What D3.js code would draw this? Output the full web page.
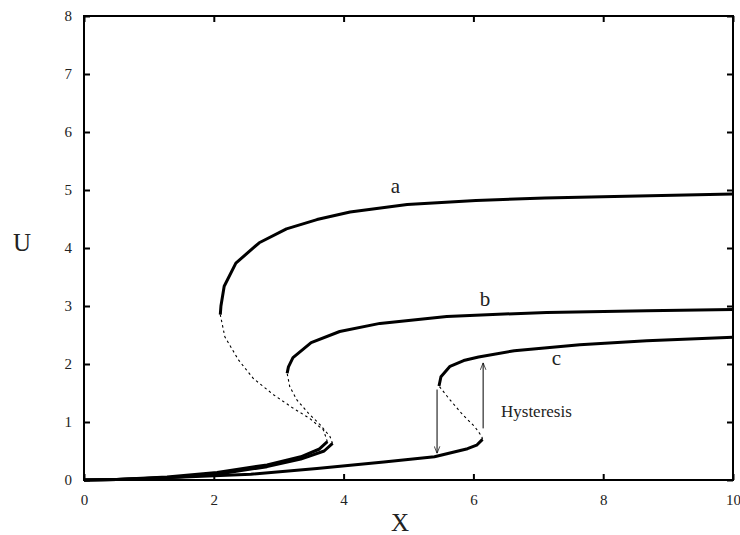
<!DOCTYPE html>
<html>
<head>
<meta charset="utf-8">
<script src="https://cdn.jsdelivr.net/npm/d3@7"></script>
<style>
  body { margin: 0; background: #fff; }
  svg { display: block; }
  .axis path { display: none; }
  .axis line { stroke: #000; stroke-width: 2; }
</style>
</head>
<body>
<div id="container"></div>
<script>
let w = 740;
let h = 535;
let serif = "'Liberation Serif', 'Times New Roman', serif";

// x ticks and y ticks
let xTicks = [0, 2, 4, 6, 8, 10];
let yTicks = [0, 1, 2, 3, 4, 5, 6, 7, 8];

// curve a
let aLower = [[0, 0], [0.5, 0.01], [1.28, 0.05], [2.05, 0.13], [2.82, 0.26], [3.34, 0.40], [3.62, 0.53], [3.75, 0.66]];
let aMiddle = [[3.75, 0.66], [3.69, 0.86], [3.48, 1.06], [3.22, 1.24], [2.92, 1.47], [2.61, 1.75], [2.38, 2.07], [2.17, 2.47], [2.10, 2.85]];
let aUpper = [[2.10, 2.85], [2.11, 3.0], [2.16, 3.34], [2.34, 3.74], [2.70, 4.09], [3.12, 4.33], [3.59, 4.49], [4.10, 4.62], [4.98, 4.75], [6.04, 4.82], [7.1, 4.86], [8.17, 4.89], [10, 4.93]];

// curve b
let bLower = [[0, 0], [0.5, 0.01], [1.28, 0.04], [2.05, 0.10], [2.82, 0.23], [3.34, 0.36], [3.70, 0.50], [3.83, 0.63]];
let bMiddle = [[3.83, 0.63], [3.79, 0.75], [3.64, 0.95], [3.46, 1.15], [3.28, 1.38], [3.17, 1.61], [3.13, 1.84]];
let bUpper = [[3.13, 1.84], [3.15, 1.95], [3.22, 2.11], [3.50, 2.37], [3.94, 2.56], [4.56, 2.70], [5.59, 2.82], [7.13, 2.89], [8.67, 2.92], [10, 2.94]];

// curve c
let cLower = [[0, 0], [0.51, 0.01], [1.54, 0.05], [2.57, 0.10], [3.59, 0.20], [4.62, 0.31], [5.40, 0.40], [5.91, 0.54], [6.05, 0.60], [6.14, 0.70]];
let cMiddle = [[6.14, 0.70], [6.13, 0.75], [6.02, 0.92], [5.84, 1.12], [5.64, 1.38], [5.47, 1.62]];
let cUpper = [[5.47, 1.62], [5.50, 1.78], [5.64, 1.96], [5.85, 2.06], [6.08, 2.12], [6.63, 2.23], [7.64, 2.33], [8.67, 2.40], [10, 2.46]];

// curve labels and hysteresis arrows (data coords)
let curveLabels = [["a", 4.8, 4.95], ["b", 6.18, 3.0], ["c", 7.28, 1.98]];
let arrows = [[5.44, 1.56, 0.46], [6.15, 0.89, 2.02]];

let svg = d3.select("#container").append("svg")
            .attr("width", w)
            .attr("height", h)
            .attr("font-family", serif);

let x = d3.scaleLinear().domain([0, 10]).range([84, 733]);
let y = d3.scaleLinear().domain([0, 8]).range([480, 16]);

svg.append("defs").append("marker")
   .attr("id", "head")
   .attr("viewBox", "0 0 10 10")
   .attr("refX", 10).attr("refY", 5)
   .attr("markerWidth", 7).attr("markerHeight", 7)
   .attr("markerUnits", "userSpaceOnUse")
   .attr("orient", "auto")
   .append("path")
   .attr("d", "M0,1 L10,5 L0,9")
   .attr("fill", "none")
   .attr("stroke", "#000")
   .attr("stroke-width", 1);

// axes, ticks pointing inward
let bottom = svg.append("g").attr("class", "axis")
   .attr("transform", "translate(0," + y(0) + ")")
   .call(d3.axisBottom(x).tickValues(xTicks).tickSize(-6).tickPadding(14));

let left = svg.append("g").attr("class", "axis")
   .attr("transform", "translate(" + x(0) + ",0)")
   .call(d3.axisLeft(y).tickValues(yTicks).tickSize(-6).tickPadding(12));

[bottom, left].forEach(g => {
  g.attr("font-family", serif).attr("font-size", 15);
  g.selectAll("text")
   .attr("font-family", serif)
   .style("font-family", serif)
   .attr("fill", "#222");
});

svg.append("g").attr("class", "axis")
   .attr("transform", "translate(0," + y(8) + ")")
   .call(d3.axisTop(x).tickValues(xTicks).tickSize(-6).tickFormat(""));

svg.append("g").attr("class", "axis")
   .attr("transform", "translate(" + x(10) + ",0)")
   .call(d3.axisRight(y).tickValues(yTicks).tickSize(-6).tickFormat(""));

svg.append("rect")
   .attr("x", x(0)).attr("y", y(8))
   .attr("width", x(10) - x(0)).attr("height", y(0) - y(8))
   .attr("fill", "none")
   .attr("stroke", "#000")
   .attr("stroke-width", 2);

let line = d3.line().x(d => x(d[0])).y(d => y(d[1]));

let solid = [aLower, aUpper, bLower, bUpper, cLower, cUpper];
let dashed = [aMiddle, bMiddle, cMiddle];

svg.selectAll(".solid")
   .data(solid)
   .enter()
   .append("path")
   .attr("class", "solid")
   .attr("d", line)
   .attr("fill", "none")
   .attr("stroke", "#000")
   .attr("stroke-width", 3)
   .attr("stroke-linejoin", "round");

svg.selectAll(".dashed")
   .data(dashed)
   .enter()
   .append("path")
   .attr("class", "dashed")
   .attr("d", line)
   .attr("fill", "none")
   .attr("stroke", "#000")
   .attr("stroke-width", 1.1)
   .attr("stroke-dasharray", "2.5,3");

svg.selectAll(".arrow")
   .data(arrows)
   .enter()
   .append("line")
   .attr("class", "arrow")
   .attr("x1", d => x(d[0])).attr("y1", d => y(d[1]))
   .attr("x2", d => x(d[0])).attr("y2", d => y(d[2]))
   .attr("stroke", "#000")
   .attr("stroke-width", 1)
   .attr("marker-end", "url(#head)");

svg.selectAll(".clabel")
   .data(curveLabels)
   .enter()
   .append("text")
   .attr("class", "clabel")
   .attr("x", d => x(d[1]))
   .attr("y", d => y(d[2]))
   .attr("text-anchor", "middle")
   .attr("font-size", 21)
   .attr("fill", "#222")
   .text(d => d[0]);

svg.append("text")
   .attr("x", 501).attr("y", 417)
   .attr("font-size", 17)
   .attr("fill", "#222")
   .text("Hysteresis");

svg.append("text")
   .attr("x", 22).attr("y", 251)
   .attr("text-anchor", "middle")
   .attr("font-size", 25)
   .attr("fill", "#222")
   .text("U");

svg.append("text")
   .attr("x", 400).attr("y", 531)
   .attr("text-anchor", "middle")
   .attr("font-size", 25)
   .attr("fill", "#222")
   .text("X");
</script>
</body>
</html>
